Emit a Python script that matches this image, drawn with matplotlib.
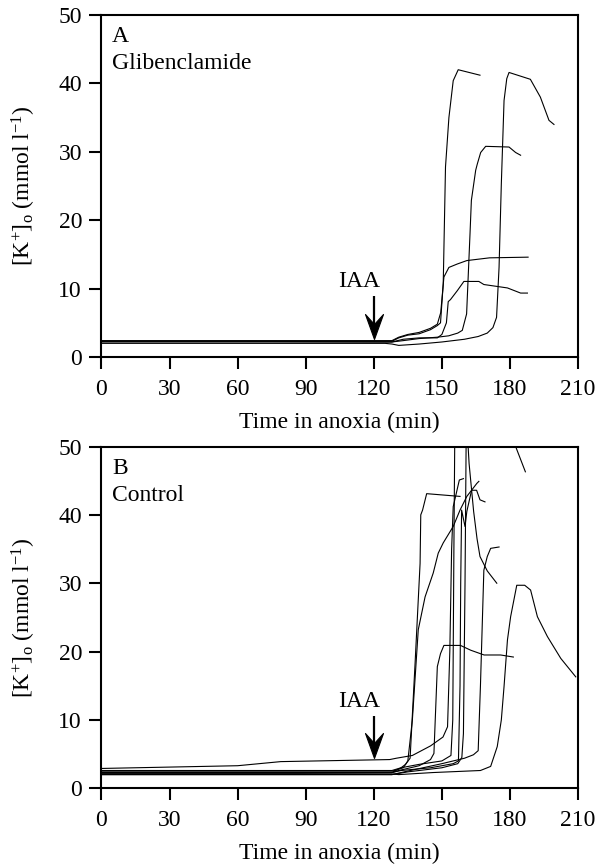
import matplotlib
matplotlib.use('Agg')
import matplotlib.pyplot as plt
from matplotlib.path import Path

plt.rcParams['font.family'] = ['Liberation Serif', 'DejaVu Serif']
plt.rcParams['mathtext.fontset'] = 'custom'
plt.rcParams['mathtext.rm'] = 'Liberation Serif'
plt.rcParams['mathtext.it'] = 'Liberation Serif:italic'

# panel A, glibenclamide: time (min) and [K+]o (mmol/l) per trace
glib_t1 = [0, 60, 128, 131, 135, 140, 145, 148, 149.4, 150.6, 151.6, 153.1, 155, 157.2, 166.8]
glib_k1 = [2.3, 2.3, 2.3, 2.8, 3.2, 3.4, 4.0, 4.6, 5.0, 10.7, 27.8, 35.0, 40.4, 42.0, 41.2]
glib_t2 = [0, 60, 125, 128, 131, 140, 150, 160, 166, 170, 172.5, 174.1, 175.2, 176.2, 177.4, 178.6, 179.6, 189, 193.4, 197.2, 199.4]
glib_k2 = [2.0, 2.0, 2.0, 1.9, 1.7, 1.9, 2.2, 2.6, 3.0, 3.5, 4.3, 5.8, 13.1, 25.3, 37.5, 40.7, 41.6, 40.6, 38.0, 34.6, 34.0]
glib_t3 = [0, 60, 128, 133, 140, 148, 153, 157, 159, 160.9, 162.4, 163, 164.9, 165.6, 167.1, 169.3, 179.6, 182.5, 184.7]
glib_k3 = [2.3, 2.3, 2.2, 2.4, 2.7, 2.9, 3.1, 3.5, 3.9, 6.3, 18.0, 22.9, 27.3, 28.2, 29.9, 30.8, 30.7, 29.9, 29.5]
glib_t4 = [0, 60, 128, 131, 135, 140, 145, 148, 149.5, 150.9, 153.1, 156.8, 161, 171, 188]
glib_k4 = [2.4, 2.4, 2.4, 2.9, 3.3, 3.6, 4.2, 4.8, 6.5, 11.7, 13.1, 13.6, 14.1, 14.5, 14.6]
glib_t5 = [0, 60, 128, 133, 140, 148, 150, 152, 152.8, 153.8, 156.8, 159.7, 166.3, 168.5, 178.9, 184.7, 187.7]
glib_k5 = [2.2, 2.2, 2.2, 2.6, 2.8, 2.8, 3.3, 5.0, 8.1, 8.4, 9.7, 11.05, 11.05, 10.6, 10.1, 9.35, 9.35]

# panel B, control
ctrl_t1 = [0, 87, 128, 132, 134, 136, 138.2, 140.4, 140.7, 141.5, 143.3, 158]
ctrl_k1 = [2.2, 2.2, 2.3, 3.0, 3.5, 4.4, 18.3, 32.9, 40.0, 40.7, 43.1, 42.7]
ctrl_t2 = [0, 128, 135, 150, 157, 158.8, 159.5, 160.2, 160.7, 161.3, 162, 164, 165.5, 166.8, 170, 174.2]
ctrl_k2 = [2.0, 2.0, 2.4, 3.0, 3.6, 4.5, 8.0, 30.0, 51.0, 51.5, 47.5, 40.5, 36.5, 33.9, 31.8, 30.0]
ctrl_t3 = [0, 128, 132, 140, 150, 154, 154.8, 155.3, 155.7, 160, 175, 182.5, 186.8]
ctrl_k3 = [2.6, 2.6, 3.0, 3.5, 4.0, 4.8, 10.0, 35.0, 52.0, 58.0, 58.0, 50.0, 46.3]
ctrl_t4 = [0, 60, 79, 127, 130, 137, 145, 150.5, 152.5, 153.5, 154.3, 155, 157.7, 159.5]
ctrl_k4 = [2.9, 3.3, 3.9, 4.2, 4.4, 4.8, 6.2, 7.5, 9.0, 20.0, 35.0, 41.2, 45.1, 45.3]
ctrl_t5 = [0, 128, 133, 135, 137, 139.6, 142.6, 146.2, 148.4, 150.6, 155, 158, 161, 165.4, 166.3]
ctrl_k5 = [2.5, 2.5, 3.0, 4.0, 10.0, 23.2, 28.0, 31.5, 34.4, 35.9, 38.3, 40.7, 42.7, 44.6, 44.9]
ctrl_t6 = [0, 128, 132, 145, 155, 157.3, 158, 158.3, 158.7, 160.2, 161, 163.1, 165.3, 166.8, 169]
ctrl_k6 = [2.3, 2.3, 2.6, 3.0, 3.6, 4.0, 15.0, 30.0, 40.7, 38.3, 40.5, 43.6, 43.6, 42.2, 41.9]
ctrl_t7 = [0, 128, 132, 150, 160, 163.9, 166, 167, 168.5, 170, 171.5, 175.2]
ctrl_k7 = [2.0, 2.0, 2.3, 3.6, 4.4, 4.9, 5.5, 15.0, 31.9, 33.9, 35.1, 35.3]
ctrl_t8 = [0, 128, 131, 140, 145, 146.5, 148, 149.4, 150.9, 158.2, 162.7, 168.6, 175.9, 181.5]
ctrl_k8 = [2.3, 2.3, 2.6, 3.3, 4.2, 5.1, 17.8, 19.7, 20.9, 20.9, 20.2, 19.5, 19.5, 19.2]
ctrl_t9 = [0, 128, 131, 146, 160, 167, 171.5, 174.4, 176.2, 177.4, 178.9, 180.3, 183, 186.5, 189.1, 192.1, 196.5, 202.4, 209]
ctrl_k9 = [2.1, 2.1, 2.0, 2.3, 2.5, 2.6, 3.2, 6.1, 10.0, 14.9, 21.7, 25.1, 29.7, 29.7, 29.0, 25.1, 22.2, 19.0, 16.3]

glib_traces = [(glib_t1, glib_k1), (glib_t2, glib_k2), (glib_t3, glib_k3),
               (glib_t4, glib_k4), (glib_t5, glib_k5)]
ctrl_traces = [(ctrl_t1, ctrl_k1), (ctrl_t2, ctrl_k2), (ctrl_t3, ctrl_k3),
               (ctrl_t4, ctrl_k4), (ctrl_t5, ctrl_k5), (ctrl_t6, ctrl_k6),
               (ctrl_t7, ctrl_k7), (ctrl_t8, ctrl_k8), (ctrl_t9, ctrl_k9)]

xticks = [0, 30, 60, 90, 120, 150, 180, 210]
yticks = [0, 10, 20, 30, 40, 50]
iaa_time = 120

# concave arrow head, tip at the origin, pointing down
head = Path([(0, 0), (-0.36, 1.0), (0, 0.6), (0.36, 1.0), (0, 0)],
            [Path.MOVETO, Path.LINETO, Path.LINETO, Path.LINETO, Path.CLOSEPOLY])

fs = 17

fig = plt.figure(figsize=(6.04, 8.67), dpi=100)
ax_a = fig.add_axes([0.168, 0.5882, 0.789, 0.3945])
ax_b = fig.add_axes([0.168, 0.0908, 0.789, 0.3942])


def style_panel(ax, letter, name, arrow_top, arrow_tip):
    ax.set_xlim(0, 210)
    ax.set_ylim(0, 50)
    ax.set_xticks(xticks)
    ax.set_yticks(yticks)
    for s in ax.spines.values():
        s.set_linewidth(1.5)
    ax.tick_params(direction='out', length=8.5, width=1.5, labelsize=fs)
    ax.tick_params(axis='x', pad=7.5)
    ax.tick_params(axis='y', pad=5.5)
    ax.set_xlabel('Time in anoxia (min)', fontsize=fs)
    ax.set_ylabel(r'[K$^{+}$]$_{\mathrm{o}}$ (mmol l$^{-1}$)', fontsize=fs)
    ax.xaxis.set_label_coords(0.5, -0.16)
    ax.yaxis.set_label_coords(-0.133, 0.5)
    ax.text(0.022, 0.937, letter, transform=ax.transAxes, fontsize=fs, va='center')
    ax.text(0.022, 0.857, name, transform=ax.transAxes, fontsize=fs, va='center')
    ax.plot([iaa_time, iaa_time], [arrow_top, arrow_tip + 1.5], color='k', lw=1.6,
            solid_capstyle='butt')
    ax.plot([iaa_time], [arrow_tip], marker=head, ms=36, color='k', mew=0.8)
    ax.text(iaa_time - 6.5, arrow_top + 2.1, 'IAA', fontsize=fs, ha='center', va='center')


for t, k in glib_traces:
    ax_a.plot(t, k, color='k', lw=0.8)
for t, k in ctrl_traces:
    ax_b.plot(t, k, color='k', lw=0.8)

style_panel(ax_a, 'A', 'Glibenclamide', 8.9, 2.7)
style_panel(ax_b, 'B', 'Control', 10.6, 4.5)

fig.savefig('out.png', dpi=100)
